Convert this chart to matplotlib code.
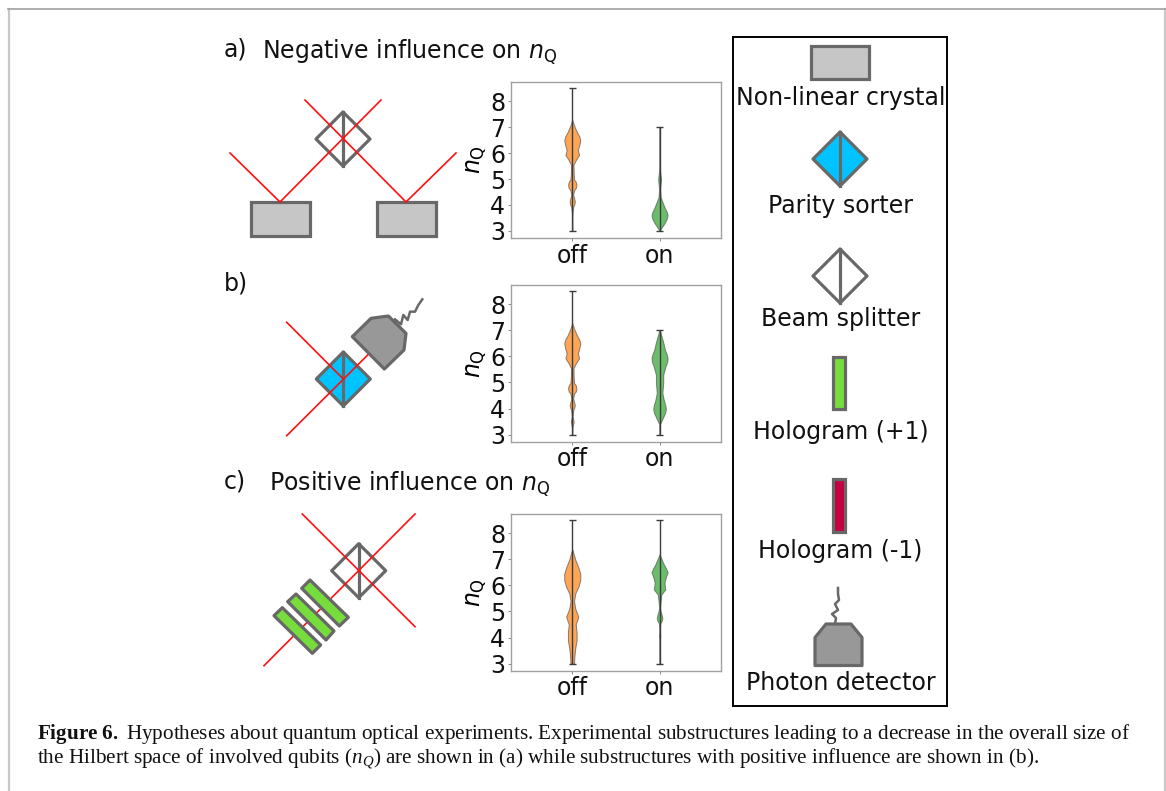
import matplotlib
matplotlib.use("Agg")
import matplotlib.pyplot as plt
from matplotlib.patches import Polygon, Rectangle

plt.rcParams["mathtext.fontset"] = "custom"
plt.rcParams["mathtext.rm"] = "Liberation Serif"
plt.rcParams["mathtext.it"] = "Liberation Serif:italic"
plt.rcParams["mathtext.bf"] = "Liberation Serif:bold"

WIDTH = 1166
HEIGHT = 791
EDGE = "#686868"
RED = "#ff1010"
CRYSTAL = "#c6c6c6"
BLUE = "#00c3ff"
GREEN = "#77dd3c"
CRIMSON = "#c40040"
DETECTOR = "#989898"
STROKE = 2.3

categories = ["off", "on"]
y_ticks = [3, 4, 5, 6, 7, 8]

# violin outlines: n_Q level and half width (in x axis units)
a_off_levels = [3, 3.7, 3.94, 4.0, 4.13, 4.26, 4.39, 4.58, 4.65, 4.77, 4.9, 4.97, 5.2, 5.55, 5.74, 5.93, 6.12, 6.3, 6.5, 6.65, 6.8, 7.02, 7.28]
a_off_widths = [0, .004, .012, .022, .03, .022, .01, .022, .04, .048, .04, .022, .016, .014, .042, .078, .064, .08, .092, .08, .055, .026, 0]
a_off_range = [3, 8.5]
a_on_levels = [3, 3.1, 3.3, 3.45, 3.6, 3.75, 3.9, 4.05, 4.3, 4.6, 5.0, 5.3, 5.6, 7]
a_on_widths = [0, .018, .058, .08, .092, .08, .058, .04, .012, .006, .016, .006, .001, 0]
a_on_range = [3, 7]

b_off_levels = [3, 3.25, 3.5, 3.7, 3.94, 4.0, 4.13, 4.26, 4.39, 4.58, 4.65, 4.77, 4.9, 4.97, 5.2, 5.55, 5.74, 5.93, 6.12, 6.3, 6.5, 6.65, 6.8, 7.02, 7.28]
b_off_widths = [0, .002, .016, .004, .012, .02, .03, .02, .01, .022, .04, .048, .04, .022, .016, .014, .042, .078, .064, .08, .092, .08, .055, .026, 0]
b_off_range = [3, 8.5]
b_on_levels = [3, 3.4, 3.6, 3.85, 4.0, 4.15, 4.3, 4.6, 5.0, 5.3, 5.6, 5.8, 5.95, 6.1, 6.25, 6.5, 6.8, 7]
b_on_widths = [0, .004, .032, .066, .072, .064, .05, .032, .042, .042, .066, .088, .092, .08, .062, .045, .02, .003]
b_on_range = [3, 7]

c_off_levels = [3, 3.3, 3.6, 3.9, 4.2, 4.5, 4.8, 5.1, 5.4, 5.7, 5.95, 6.2, 6.45, 6.7, 7.0, 7.4]
c_off_widths = [.02, .025, .035, .05, .05, .04, .07, .035, .02, .035, .07, .092, .092, .069, .034, 0]
c_off_range = [3, 8.5]
c_on_levels = [3, 3.9, 4.05, 4.3, 4.55, 4.65, 4.75, 4.85, 5.0, 5.15, 5.4, 5.65, 5.85, 6.1, 6.3, 6.5, 6.65, 6.8, 7.0, 7.2]
c_on_widths = [0, .001, .008, .001, .008, .026, .032, .026, .012, .005, .012, .02, .066, .056, .07, .092, .075, .05, .024, 0]
c_on_range = [3, 8.5]

# axes box in pixels: left, top, right, bottom
panels = [
    ((510.7, 82, 720.7, 238), (a_off_levels, a_off_widths, a_off_range), (a_on_levels, a_on_widths, a_on_range)),
    ((510.7, 285, 720.7, 441.7), (b_off_levels, b_off_widths, b_off_range), (b_on_levels, b_on_widths, b_on_range)),
    ((510.7, 514, 720.7, 670.7), (c_off_levels, c_off_widths, c_off_range), (c_on_levels, c_on_widths, c_on_range)),
]

legend_labels = [
    ("Non-linear crystal", 98), ("Parity sorter", 206), ("Beam splitter", 319),
    ("Hologram (+1)", 432), ("Hologram (-1)", 551), ("Photon detector", 683),
]


def draw_violin(axe, position, profile, colour):
    levels, widths, value_range = profile
    left = [position - w for w in widths]
    right = [position + w for w in widths]
    axe.fill_betweenx(levels, left, right, facecolor=colour, edgecolor="#555555", alpha=0.7, linewidth=0.7)
    axe.vlines(position, value_range[0], value_range[1], color="#3c3c3c", linewidth=1.0)
    axe.hlines(value_range, position - 0.04, position + 0.04, color="#3c3c3c", linewidth=1.0)


def add_poly(canvas, points, face, z=3):
    canvas.add_patch(Polygon(points, closed=True, facecolor=face, edgecolor=EDGE, linewidth=STROKE, joinstyle="round", zorder=z))


def crystal(canvas, left, top, right, bottom):
    canvas.add_patch(Rectangle((left, top), right - left, bottom - top, facecolor=CRYSTAL, edgecolor=EDGE, linewidth=STROKE, zorder=3))


def splitter(canvas, cx, cy, face="white", size=27):
    add_poly(canvas, [(cx - size, cy), (cx, cy - size), (cx + size, cy), (cx, cy + size)], face)
    canvas.plot([cx, cx], [cy - size, cy + size], color=EDGE, linewidth=STROKE, zorder=4)


def red_line(canvas, start, end):
    canvas.plot([start[0], end[0]], [start[1], end[1]], color=RED, linewidth=1.2, zorder=5)


def zoom_points(points, x0, y0):
    return [(x0 + x / 3, y0 + y / 3) for x, y in points]


fig = plt.figure(figsize=(WIDTH / 100, HEIGHT / 100), dpi=100)

# overlay in pixel coordinates for the schematic parts
canvas = fig.add_axes([0, 0, 1, 1])
canvas.set_xlim(0, WIDTH)
canvas.set_ylim(HEIGHT, 0)
canvas.axis("off")

# page frame
canvas.plot([9, 9], [HEIGHT, 8.5], color="#c8c8c8", linewidth=1.6, zorder=1)
canvas.plot([1165, 1165], [HEIGHT, 8.5], color="#c8c8c8", linewidth=1.6, zorder=1)
canvas.plot([8, 1166], [8.5, 8.5], color="#a0a0a0", linewidth=1.2, zorder=1)

# panel a
red_line(canvas, (230, 153), (280, 202))
red_line(canvas, (280, 202), (381, 100))
red_line(canvas, (406, 202), (305, 100))
red_line(canvas, (406, 202), (456, 153))
splitter(canvas, 343, 139)
crystal(canvas, 251, 202, 310, 236)
crystal(canvas, 377, 202, 436, 236)

# panel b
add_poly(canvas, zoom_points([(412, 200), (468, 145), (520, 138), (573, 190), (567, 240), (508, 297)], 215, 270), DETECTOR)
wiggle = zoom_points([(540, 148), (558, 163), (565, 135), (578, 150), (585, 125), (600, 125), (610, 105), (622, 88)], 215, 270)
canvas.plot([p[0] for p in wiggle], [p[1] for p in wiggle], color=EDGE, linewidth=1.8, zorder=3)
splitter(canvas, 343.3, 379, BLUE)
red_line(canvas, (286.7, 322.3), (343.3, 379))
red_line(canvas, (286.7, 435.7), (367.7, 355))

# panel c
splitter(canvas, 358.7, 570.7)
red_line(canvas, (264, 665.7), (415, 514))
red_line(canvas, (302.3, 514), (415, 626.7))
for bar in [[(180, 240), (295, 352), (268, 378), (155, 265)],
            [(138, 282), (252, 393), (228, 420), (113, 305)],
            [(97, 323), (212, 435), (187, 460), (72, 347)]]:
    add_poly(canvas, zoom_points(bar, 250, 500), GREEN, z=6)

# legend box
canvas.add_patch(Rectangle((733, 36.5), 214, 669.5, facecolor="none", edgecolor="black", linewidth=1.4, zorder=2))
crystal(canvas, 811, 46, 869, 79)
splitter(canvas, 840, 159, BLUE)
splitter(canvas, 840, 276)
canvas.add_patch(Rectangle((832.5, 356.5), 12.5, 52.5, facecolor=GREEN, edgecolor=EDGE, linewidth=STROKE, zorder=3))
canvas.add_patch(Rectangle((832.5, 479), 12.5, 53, facecolor=CRIMSON, edgecolor=EDGE, linewidth=STROKE, zorder=3))
add_poly(canvas, [(815, 665.5), (815, 637.5), (826, 624), (851, 624), (862, 637.5), (862, 665.5)], DETECTOR)
wiggle = [(835, 624), (836, 618), (832, 614), (838, 610), (835, 604), (839, 600), (838, 594), (838, 588)]
canvas.plot([p[0] for p in wiggle], [p[1] for p in wiggle], color=EDGE, linewidth=1.8, zorder=3)

for label, y in legend_labels:
    canvas.text(840.5, y, label, fontsize=17, ha="center", va="center", color="#111111")

# panel titles
canvas.text(224, 50, "a)", fontsize=17, ha="left", va="center", color="#111111")
canvas.text(262, 52, r"Negative influence on $n_{\mathrm{Q}}$", fontsize=17, ha="left", va="center", color="#111111", math_fontfamily="dejavusans")
canvas.text(224, 283, "b)", fontsize=17, ha="left", va="center", color="#111111")
canvas.text(224, 482, "c)", fontsize=17, ha="left", va="center", color="#111111")
canvas.text(269, 484, r"Positive influence on $n_{\mathrm{Q}}$", fontsize=17, ha="left", va="center", color="#111111", math_fontfamily="dejavusans")

# caption
canvas.text(37, 734, r"$\mathbf{Figure\ 6.}$ Hypotheses about quantum optical experiments. Experimental substructures leading to a decrease in the overall size of",
            fontsize=15.2, family="Liberation Serif", ha="left", va="center", color="#111111", math_fontfamily="custom")
canvas.text(37, 759, r"the Hilbert space of involved qubits ($n_{Q}$) are shown in (a) while substructures with positive influence are shown in (b).",
            fontsize=15.2, family="Liberation Serif", ha="left", va="center", color="#111111", math_fontfamily="custom")

for box, off_profile, on_profile in panels:
    left, top, right, bottom = box
    axe = fig.add_axes([left / WIDTH, 1 - bottom / HEIGHT, (right - left) / WIDTH, (bottom - top) / HEIGHT])
    draw_violin(axe, 0, off_profile, "tab:orange")
    draw_violin(axe, 1, on_profile, "tab:green")
    axe.set_xlim(-0.705, 1.7)
    axe.set_ylim(2.725, 8.745)
    axe.set_xticks([0, 1])
    axe.set_xticklabels(categories)
    axe.set_yticks(y_ticks)
    axe.tick_params(labelsize=17, length=2, width=0.7, color="#888888", pad=2, labelcolor="#111111")
    axe.set_ylabel(r"$n_{\mathrm{Q}}$", fontsize=17, labelpad=1, math_fontfamily="dejavusans")
    for spine in axe.spines.values():
        spine.set_color("#a0a0a0")
        spine.set_linewidth(1.0)

fig.savefig("out.png", dpi=100)
